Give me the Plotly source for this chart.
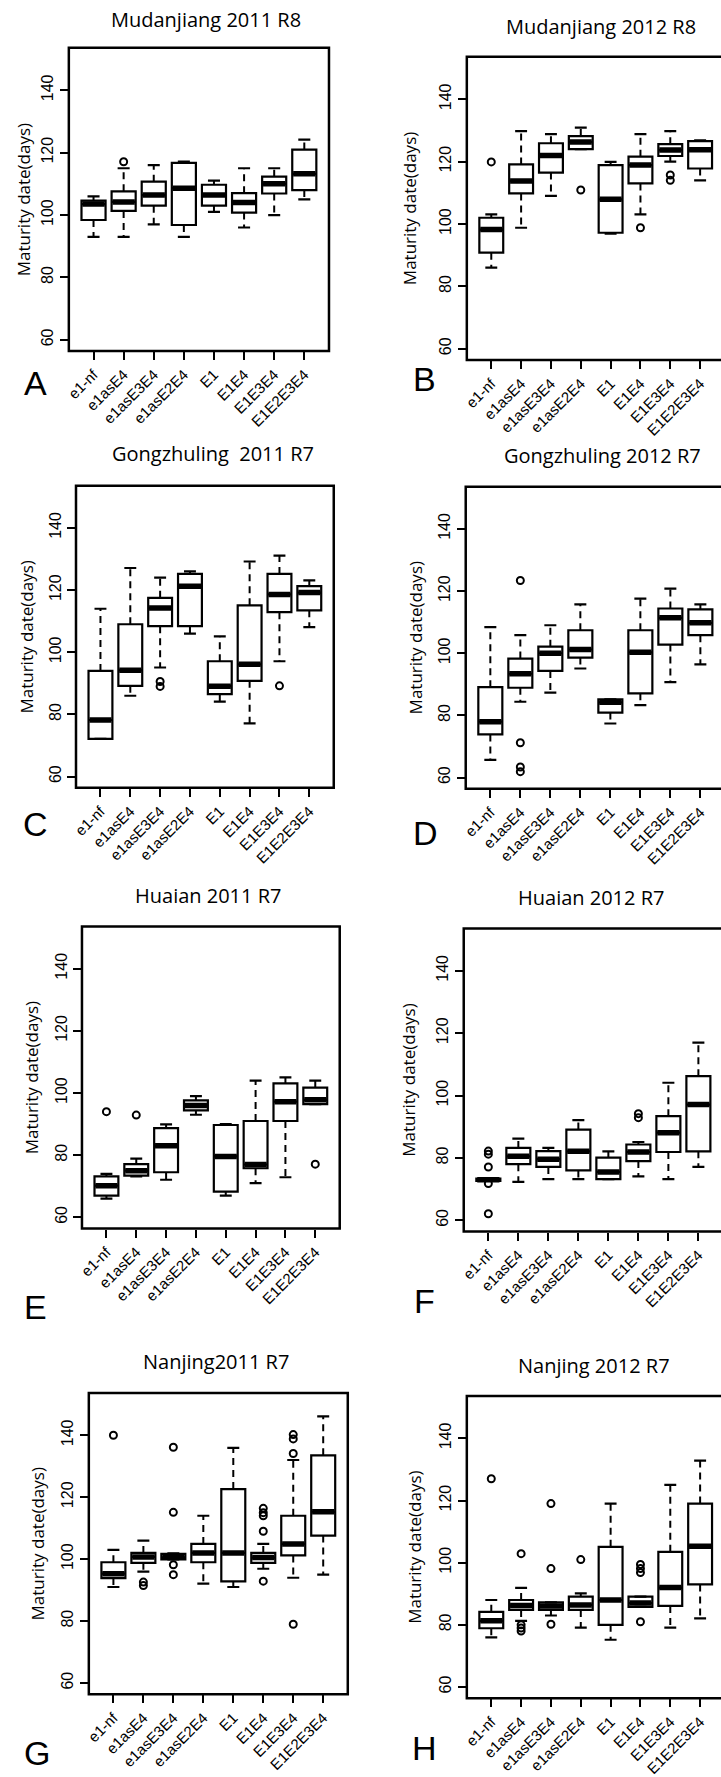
import plotly.graph_objects as go

W, H = 721, 1777

# ---------------- data ----------------
genotypes = ["e1-nf", "e1asE4", "e1asE3E4", "e1asE2E4", "E1", "E1E4", "E1E3E4", "E1E2E3E4"]
positions = [1, 2, 3, 4, 5, 6, 7, 8]
y_ticks = [60, 80, 100, 120, 140]
y_title = "Maturity date(days)"

titles = ["Mudanjiang 2011 R8", "Mudanjiang 2012 R8", "Gongzhuling  2011 R7", "Gongzhuling 2012 R7",
          "Huaian 2011 R7", "Huaian 2012 R7", "Nanjing2011 R7", "Nanjing 2012 R7"]
letters = ["A", "B", "C", "D", "E", "F", "G", "H"]

# Panel A - Mudanjiang 2011 R8
A_q1 = [98.4, 101.3, 103.0, 96.8, 103.0, 100.8, 106.9, 108.0]
A_med = [103.5, 104.2, 106.4, 108.6, 106.4, 104.0, 110.0, 113.2]
A_q3 = [104.6, 107.6, 110.7, 116.7, 109.7, 107.0, 112.3, 121.0]
A_lo = [93.0, 93.0, 97.0, 93.0, 101.0, 96.0, 100.0, 105.0]
A_hi = [106.0, 115.0, 116.0, 117.1, 111.0, 115.0, 115.0, 124.2]
A_out_x = [2]
A_out_y = [117.1]

# Panel B - Mudanjiang 2012 R8
B_q1 = [90.8, 109.8, 116.5, 124.0, 97.2, 113.0, 121.8, 117.8]
B_med = [98.2, 113.8, 122.0, 126.3, 107.9, 118.9, 123.7, 123.8]
B_q3 = [102.0, 119.1, 125.9, 128.2, 118.9, 121.6, 125.6, 126.6]
B_lo = [86.0, 98.8, 109.0, 124.0, 96.9, 103.1, 120.0, 114.0]
B_hi = [103.1, 129.8, 128.8, 130.9, 119.9, 128.8, 129.8, 126.8]
B_out_x = [1, 4, 6, 7, 7]
B_out_y = [119.9, 110.9, 98.8, 115.7, 114.0]

# Panel C - Gongzhuling 2011 R7
C_q1 = [72.1, 89.2, 108.4, 108.4, 86.5, 90.8, 112.9, 113.5]
C_med = [78.2, 94.2, 114.2, 121.2, 89.1, 96.1, 118.6, 119.2]
C_q3 = [94.0, 109.0, 117.5, 125.2, 97.1, 115.1, 125.2, 121.3]
C_lo = [72.1, 86.0, 95.1, 106.0, 84.1, 77.1, 97.1, 108.1]
C_hi = [114.0, 127.1, 124.0, 126.0, 105.1, 129.2, 131.1, 123.1]
C_out_x = [3, 3, 7]
C_out_y = [90.6, 89.0, 89.2]

# Panel D - Gongzhuling 2012 R7
D_q1 = [73.9, 88.9, 94.3, 98.6, 80.9, 87.1, 102.8, 105.8]
D_med = [78.0, 93.4, 100.0, 101.2, 84.2, 100.3, 111.4, 109.8]
D_q3 = [89.1, 98.3, 102.1, 107.4, 85.2, 107.4, 114.4, 114.1]
D_lo = [65.7, 84.4, 87.3, 95.1, 77.4, 83.3, 90.7, 96.4]
D_hi = [108.4, 105.8, 109.0, 115.7, 85.2, 117.6, 120.8, 115.7]
D_out_x = [2, 2, 2, 2]
D_out_y = [123.4, 71.2, 63.4, 61.9]

# Panel E - Huaian 2011 R7
E_q1 = [67.0, 73.4, 74.5, 94.4, 68.3, 75.8, 91.0, 96.4]
E_med = [70.2, 75.0, 83.0, 96.0, 79.6, 77.0, 97.2, 97.8]
E_q3 = [73.2, 77.1, 88.7, 97.6, 89.7, 91.0, 103.1, 101.7]
E_lo = [66.0, 73.2, 72.1, 93.0, 67.0, 71.0, 72.9, 96.4]
E_hi = [74.0, 78.9, 89.9, 99.0, 90.0, 104.0, 105.0, 104.0]
E_out_x = [1, 2, 8]
E_out_y = [94.0, 92.9, 77.1]

# Panel F - Huaian 2012 R7
F_q1 = [72.6, 78.0, 77.1, 76.0, 73.2, 79.0, 81.9, 82.1]
F_med = [73.0, 80.5, 79.6, 82.1, 75.5, 81.9, 88.1, 97.1]
F_q3 = [73.4, 83.2, 82.2, 89.1, 80.1, 84.3, 93.4, 106.2]
F_lo = [72.6, 72.3, 73.2, 73.2, 73.2, 74.1, 73.2, 77.1]
F_hi = [73.4, 86.2, 83.2, 92.1, 82.1, 85.1, 104.1, 117.0]
F_out_x = [1, 1, 1, 1, 1, 6, 6]
F_out_y = [82.2, 81.2, 77.1, 71.8, 62.1, 94.2, 92.9]

# Panel G - Nanjing 2011 R7
G_q1 = [93.9, 98.8, 99.9, 99.0, 92.8, 98.8, 101.2, 107.6]
G_med = [95.3, 100.7, 100.6, 102.0, 102.0, 100.5, 104.9, 115.3]
G_q3 = [99.0, 102.0, 101.7, 104.9, 122.6, 102.0, 114.0, 133.5]
G_lo = [91.0, 96.0, 99.9, 92.1, 91.0, 96.9, 94.0, 95.0]
G_hi = [103.0, 106.0, 101.9, 114.0, 135.9, 104.9, 132.0, 146.1]
G_out_x = [1, 2, 2, 3, 3, 3, 3, 6, 6, 6, 6, 6, 7, 7, 7, 7]
G_out_y = [140.0, 92.6, 91.5, 136.1, 115.1, 98.2, 95.0, 116.4, 115.0, 114.0, 109.0, 92.9,
           140.2, 138.8, 134.1, 79.0]

# Panel H - Nanjing 2012 R7
H_q1 = [78.9, 84.8, 84.8, 84.8, 80.0, 85.8, 86.1, 93.0]
H_med = [81.3, 86.2, 86.1, 86.4, 88.0, 87.0, 92.0, 105.3]
H_q3 = [84.2, 88.0, 87.2, 89.1, 105.1, 89.1, 103.5, 119.0]
H_lo = [76.0, 81.3, 83.0, 79.1, 75.2, 85.8, 79.1, 82.1]
H_hi = [88.0, 91.9, 87.2, 90.1, 119.0, 89.1, 125.0, 132.8]
H_out_x = [1, 2, 2, 2, 2, 3, 3, 3, 4, 6, 6, 6, 6]
H_out_y = [127.0, 102.9, 80.0, 79.0, 78.0, 119.0, 98.1, 80.2, 101.0, 99.4, 98.1, 96.8, 81.0]

panel_data = [
    (A_q1, A_med, A_q3, A_lo, A_hi, A_out_x, A_out_y),
    (B_q1, B_med, B_q3, B_lo, B_hi, B_out_x, B_out_y),
    (C_q1, C_med, C_q3, C_lo, C_hi, C_out_x, C_out_y),
    (D_q1, D_med, D_q3, D_lo, D_hi, D_out_x, D_out_y),
    (E_q1, E_med, E_q3, E_lo, E_hi, E_out_x, E_out_y),
    (F_q1, F_med, F_q3, F_lo, F_hi, F_out_x, F_out_y),
    (G_q1, G_med, G_q3, G_lo, G_hi, G_out_x, G_out_y),
    (H_q1, H_med, H_q3, H_lo, H_hi, H_out_x, H_out_y),
]

# ---------------- layout (pixel frames: left, top, right, bottom) ----------------
frames = [(65.2, 48, 326.8, 352), (465.4, 57, 724.6, 361),
          (72.4, 487, 331.6, 790), (464.3, 488, 725.0, 791),
          (78.4, 929, 337.6, 1232), (462.3, 931, 723.0, 1235),
          (85.3, 1397, 345.7, 1699), (465.4, 1400, 724.6, 1703)]
title_pos = [(203, 20), (600, 27), (210, 455), (602, 457), (205, 898), (590, 900), (213, 1365), (593, 1369)]
letter_pos = [(32, 384), (423, 380), (32, 826), (424, 835), (32, 1311), (423, 1305), (33, 1758), (423, 1753)]
ytitle_x = [20, 408, 23, 414, 28, 407, 34, 412]

Y_RANGE = [56.4, 153.6]
X_LO, X_HI = 0.18, 8.82
BOX_HALF = 0.4
CAP_HALF = 0.2

TICK_FONT = "Liberation Sans, Arial, sans-serif"
TEXT_FONT = "Open Sans, Noto Sans, sans-serif"

fig = go.Figure()
layout = dict(width=W, height=H, margin=dict(l=0, r=0, t=0, b=0),
              paper_bgcolor="white", plot_bgcolor="white", showlegend=False)
shapes, annotations = [], []

for p in range(8):
    q1, med, q3, lo, hi, ox, oy = panel_data[p]
    left, top, right, bottom = frames[p]
    n = p + 1
    xa, ya = f"x{n}", f"y{n}"
    scale = (right - left) / (X_HI - X_LO)
    vis_right = min(right, W)
    x_end = X_LO + (vis_right - left) / scale

    # whiskers (dashed) from box edge to fence
    wx, wy = [], []
    for i, pos in enumerate(positions):
        wx += [pos, pos, None, pos, pos, None]
        wy += [q3[i], hi[i], None, q1[i], lo[i], None]
    fig.add_trace(go.Scatter(x=wx, y=wy, mode="lines", xaxis=xa, yaxis=ya,
                             line=dict(color="black", width=2, dash="7px,5px"),
                             hoverinfo="skip"))
    # staples
    cx, cy = [], []
    for i, pos in enumerate(positions):
        cx += [pos - CAP_HALF, pos + CAP_HALF, None, pos - CAP_HALF, pos + CAP_HALF, None]
        cy += [hi[i], hi[i], None, lo[i], lo[i], None]
    fig.add_trace(go.Scatter(x=cx, y=cy, mode="lines", xaxis=xa, yaxis=ya,
                             line=dict(color="black", width=2.2), hoverinfo="skip"))
    # boxes
    fig.add_trace(go.Box(x=positions, q1=q1, median=med, q3=q3, lowerfence=q1, upperfence=q3,
                         width=2 * BOX_HALF, whiskerwidth=0, fillcolor="white",
                         line=dict(color="black", width=2.2), boxpoints=False,
                         xaxis=xa, yaxis=ya, hoverinfo="skip"))
    # thick medians
    mx, my = [], []
    for i, pos in enumerate(positions):
        mx += [pos - BOX_HALF + 0.03, pos + BOX_HALF - 0.03, None]
        my += [med[i], med[i], None]
    fig.add_trace(go.Scatter(x=mx, y=my, mode="lines", xaxis=xa, yaxis=ya,
                             line=dict(color="black", width=5.5), hoverinfo="skip"))
    # outliers
    fig.add_trace(go.Scatter(x=ox, y=oy, mode="markers", xaxis=xa, yaxis=ya,
                             marker=dict(symbol="circle-open", size=7, color="black",
                                         line=dict(width=2, color="black")),
                             hoverinfo="skip"))

    layout[f"xaxis{n}" if n > 1 else "xaxis"] = dict(
        domain=[left / W, vis_right / W], range=[X_LO, x_end], anchor=ya,
        tickmode="array", tickvals=positions, ticktext=genotypes, tickangle=-45,
        ticks="outside", ticklen=8, tickwidth=2, tickcolor="black",
        showgrid=False, zeroline=False, showline=False, fixedrange=True,
        tickfont=dict(family=TICK_FONT, size=15, color="black"))
    layout[f"yaxis{n}" if n > 1 else "yaxis"] = dict(
        domain=[1 - bottom / H, 1 - top / H], range=Y_RANGE, anchor=xa,
        tickmode="array", tickvals=y_ticks, tickangle=-90,
        ticks="outside", ticklen=8, tickwidth=2, tickcolor="black",
        showgrid=False, zeroline=False, showline=False, fixedrange=True,
        tickfont=dict(family=TICK_FONT, size=16, color="black"))

    shapes.append(dict(type="rect", xref="paper", yref="paper",
                       x0=left / W, x1=right / W, y0=1 - bottom / H, y1=1 - top / H,
                       line=dict(color="black", width=2.5), layer="above"))

    tx, ty = title_pos[p]
    annotations.append(dict(text=titles[p], xref="paper", yref="paper", x=tx / W, y=1 - ty / H,
                            xanchor="center", yanchor="middle", showarrow=False,
                            font=dict(family=TEXT_FONT, size=20, color="black")))
    lx, ly = letter_pos[p]
    annotations.append(dict(text=letters[p], xref="paper", yref="paper", x=lx / W, y=1 - ly / H,
                            xanchor="center", yanchor="middle", showarrow=False,
                            font=dict(family=TICK_FONT, size=34, color="black")))
    annotations.append(dict(text=y_title, xref="paper", yref="paper", x=ytitle_x[p] / W,
                            y=1 - (top + bottom) / 2 / H, textangle=-90,
                            xanchor="center", yanchor="middle", showarrow=False,
                            font=dict(family=TEXT_FONT, size=17, color="black")))

layout["shapes"] = shapes
layout["annotations"] = annotations
fig.update_layout(**layout)
fig.write_html("out.html")
